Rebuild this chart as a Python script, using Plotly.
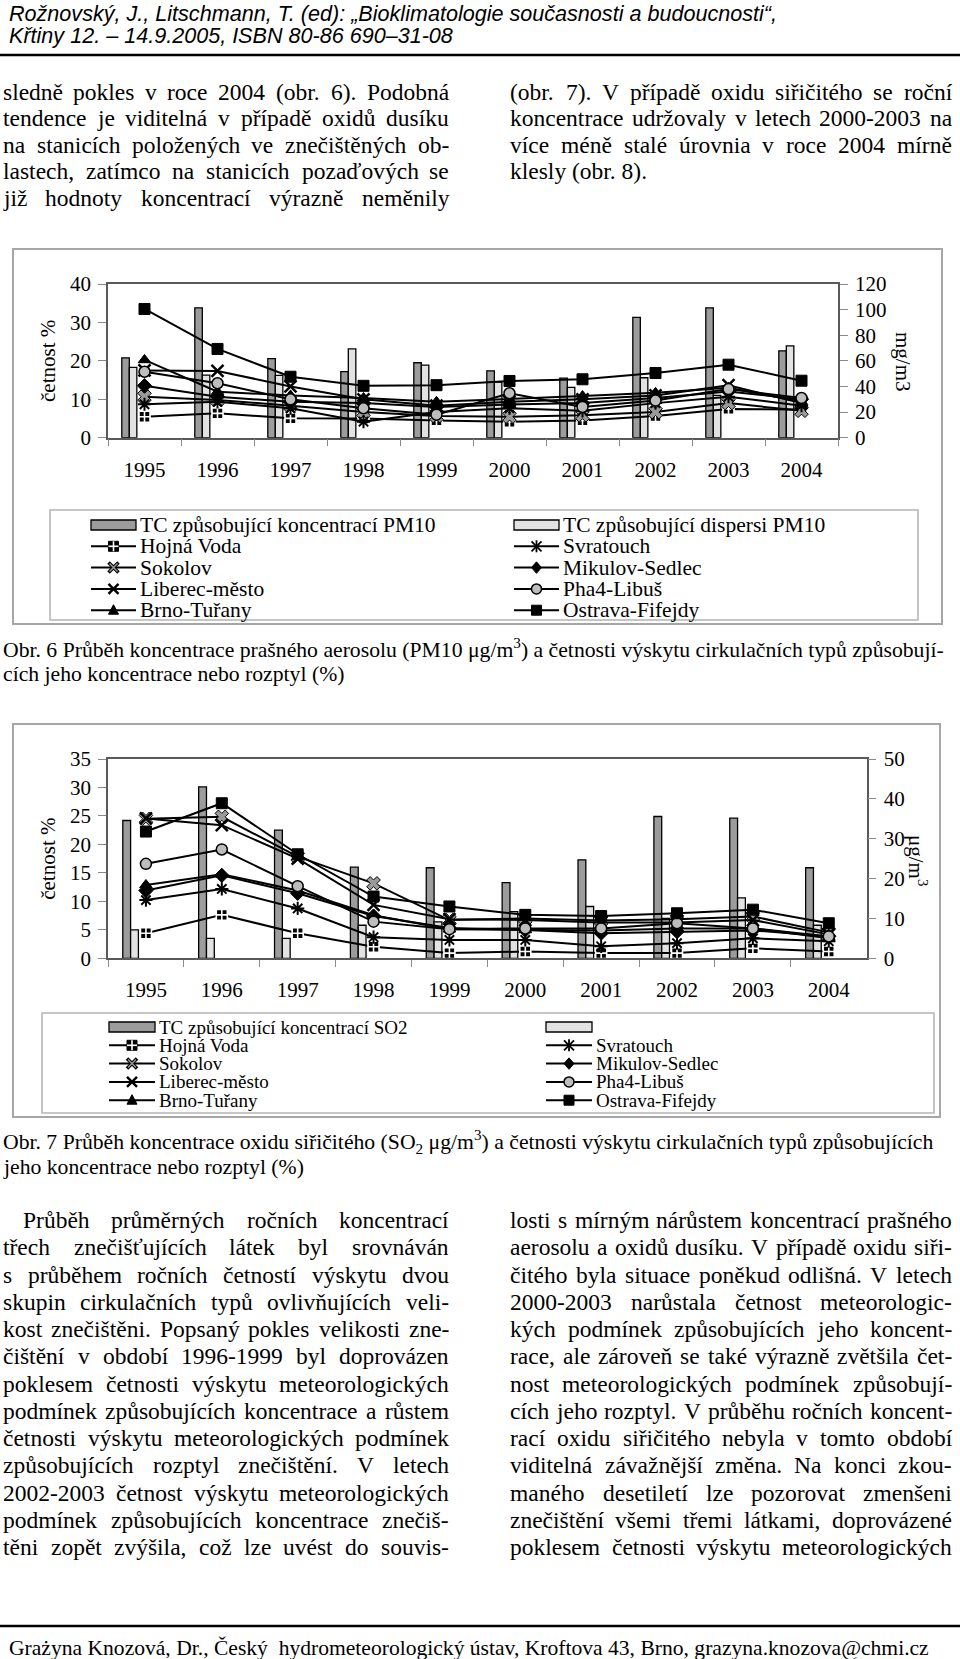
import re
import unicodedata
import plotly.graph_objects as go

W, H = 960, 1659

# ---------------------------------------------------------------- data
YEARS = ["1995", "1996", "1997", "1998", "1999", "2000", "2001", "2002", "2003", "2004"]

# Obr. 6 - PM10 (bars: % on left axis, stations: concentration on right axis)
PM10_TC_CONCENTRATION = [20.8, 33.8, 20.6, 17.2, 19.5, 17.4, 15.5, 31.3, 33.8, 22.6]
PM10_TC_DISPERSION = [18.3, 16.3, 16.2, 23.1, 18.9, 14.5, 13.1, 15.6, 11.0, 23.9]
PM10_HOJNA_VODA = [16.4, 19.0, 15.1, 15.0, 13.5, 12.5, 13.5, 17.0, 22.5, 22.0]
PM10_SOKOLOV = [32.0, 29.4, 25.0, 20.0, 17.0, 16.4, 17.5, 20.0, 27.0, 21.0]
PM10_LIBEREC = [52.5, 52.1, 40.0, 30.0, 25.0, 28.0, 30.0, 33.0, 41.0, 27.0]
PM10_BRNO = [60.7, 35.9, 33.0, 31.0, 28.0, 30.0, 32.5, 35.0, 39.0, 28.0]
PM10_SVRATOUCH = [26.1, 28.0, 23.0, 12.5, 20.0, 23.0, 21.0, 27.0, 32.0, 25.0]
PM10_MIKULOV = [40.6, 32.0, 28.0, 27.0, 24.0, 26.0, 27.0, 31.0, 36.0, 30.0]
PM10_PHA4 = [51.5, 42.5, 30.0, 23.0, 18.0, 34.7, 24.0, 29.0, 38.0, 31.0]
PM10_OSTRAVA = [100.5, 69.3, 47.6, 40.5, 41.0, 44.3, 45.6, 50.5, 57.0, 44.5]

# Obr. 7 - SO2
SO2_TC_CONCENTRATION = [24.2, 30.1, 22.5, 16.0, 15.9, 13.3, 17.3, 24.9, 24.6, 15.9]
SO2_TC_DISPERSION = [5.0, 3.5, 3.5, 5.8, 6.4, 8.2, 9.1, 7.0, 10.6, 5.8]
SO2_HOJNA_VODA = [6.3, 10.9, 6.3, 2.9, 1.3, 1.7, 1.3, 1.3, 2.5, 1.7]
SO2_SOKOLOV = [35.0, 35.5, 25.5, 18.8, 9.6, 10.0, 9.5, 9.8, 10.5, 6.5]
SO2_LIBEREC = [35.1, 33.4, 25.0, 13.4, 9.8, 9.6, 9.0, 9.0, 9.6, 6.0]
SO2_BRNO = [18.4, 21.1, 17.0, 10.8, 7.3, 7.1, 7.0, 7.5, 7.5, 5.0]
SO2_SVRATOUCH = [14.6, 17.4, 12.5, 5.3, 4.6, 4.6, 3.0, 3.8, 5.0, 4.3]
SO2_MIKULOV = [17.0, 20.8, 16.3, 10.6, 7.6, 7.1, 6.3, 6.7, 7.0, 5.5]
SO2_PHA4 = [23.7, 27.3, 18.1, 9.2, 7.3, 7.5, 7.5, 8.8, 7.5, 5.5]
SO2_OSTRAVA = [31.8, 38.9, 26.1, 15.5, 13.0, 10.9, 10.6, 11.3, 12.2, 8.8]

STATIONS = ["Hojná Voda", "Sokolov", "Liberec-město", "Brno-Tuřany",
            "Svratouch", "Mikulov-Sedlec", "Pha4-Libuš", "Ostrava-Fifejdy"]
PM10_SERIES = [PM10_HOJNA_VODA, PM10_SOKOLOV, PM10_LIBEREC, PM10_BRNO,
               PM10_SVRATOUCH, PM10_MIKULOV, PM10_PHA4, PM10_OSTRAVA]
SO2_SERIES = [SO2_HOJNA_VODA, SO2_SOKOLOV, SO2_LIBEREC, SO2_BRNO,
              SO2_SVRATOUCH, SO2_MIKULOV, SO2_PHA4, SO2_OSTRAVA]

LEFT_TICKS_1 = [0, 10, 20, 30, 40]
RIGHT_TICKS_1 = [0, 20, 40, 60, 80, 100, 120]
LEFT_TICKS_2 = [0, 5, 10, 15, 20, 25, 30, 35]
RIGHT_TICKS_2 = [0, 10, 20, 30, 40, 50]

# ---------------------------------------------------------------- text
HEADER = ["Rožnovský, J., Litschmann, T. (ed): „Bioklimatologie současnosti a budoucnosti“,",
          "Křtiny 12. – 14.9.2005, ISBN 80-86 690–31-08"]
TOP_LEFT = ["sledně pokles v roce 2004 (obr. 6). Podobná",
            "tendence je viditelná v případě oxidů dusíku",
            "na stanicích položených ve znečištěných ob-",
            "lastech, zatímco na stanicích pozaďových se",
            "již hodnoty koncentrací výrazně neměnily"]
TOP_RIGHT = ["(obr. 7). V případě oxidu siřičitého se roční",
             "koncentrace udržovaly v letech 2000-2003 na",
             "více méně stalé úrovnia v roce 2004 mírně",
             "klesly (obr. 8)."]
CAPTION_6 = ["Obr. 6 Průběh koncentrace prašného aerosolu (PM10 μg/m<sup>3</sup>) a četnosti výskytu cirkulačních typů způsobují-",
             "cích jeho koncentrace nebo rozptyl (%)"]
CAPTION_7 = ["Obr. 7 Průběh koncentrace oxidu siřičitého (SO<sub>2</sub> μg/m<sup>3</sup>) a četnosti výskytu cirkulačních typů způsobujících",
             "jeho koncentrace nebo rozptyl (%)"]
BOTTOM_LEFT = ["Průběh průměrných ročních koncentrací",
               "třech znečišťujících látek byl srovnáván",
               "s průběhem ročních četností výskytu dvou",
               "skupin cirkulačních typů ovlivňujících veli-",
               "kost znečištěni. Popsaný pokles velikosti zne-",
               "čištění v období 1996-1999 byl doprovázen",
               "poklesem četnosti výskytu meteorologických",
               "podmínek způsobujících koncentrace a růstem",
               "četnosti výskytu meteorologických podmínek",
               "způsobujících rozptyl znečištění. V letech",
               "2002-2003 četnost výskytu meteorologických",
               "podmínek způsobujících koncentrace znečiš-",
               "těni zopět zvýšila, což lze uvést do souvis-"]
BOTTOM_RIGHT = ["losti s mírným nárůstem koncentrací prašného",
                "aerosolu a oxidů dusíku. V případě oxidu siři-",
                "čitého byla situace poněkud odlišná. V letech",
                "2000-2003 narůstala četnost meteorologic-",
                "kých podmínek způsobujících jeho koncent-",
                "race, ale zároveň se také výrazně zvětšila čet-",
                "nost meteorologických podmínek způsobují-",
                "cích jeho rozptyl. V průběhu ročních koncent-",
                "rací oxidu siřičitého nebyla v tomto období",
                "viditelná závažnější změna. Na konci zkou-",
                "maného desetiletí lze pozorovat zmenšeni",
                "znečištění všemi třemi látkami, doprovázené",
                "poklesem četnosti výskytu meteorologických"]
FOOTER = "Grażyna Knozová, Dr., Český  hydrometeorologický ústav, Kroftova 43, Brno, grazyna.knozova@chmi.cz"
LEGEND_1 = [["TC způsobující koncentrací PM10", "Hojná Voda", "Sokolov", "Liberec-město", "Brno-Tuřany"],
            ["TC způsobující dispersi PM10", "Svratouch", "Mikulov-Sedlec", "Pha4-Libuš", "Ostrava-Fifejdy"]]
LEGEND_2 = [["TC způsobující koncentrací SO2", "Hojná Voda", "Sokolov", "Liberec-město", "Brno-Tuřany"],
            ["", "Svratouch", "Mikulov-Sedlec", "Pha4-Libuš", "Ostrava-Fifejdy"]]

# ---------------------------------------------------------------- font metrics (per 1000 em)
TIMES = {' ': 250, '%': 833, '(': 333, ')': 333, ',': 250, '-': 333, '.': 250, '/': 278,
         ':': 278, ';': 278, '@': 921, '–': 500, '„': 444, '“': 444, 'μ': 576,
         'ď': 588, 'ť': 344, 'ż': 444,
         'a': 444, 'b': 500, 'c': 444, 'd': 500, 'e': 444, 'f': 333, 'g': 500, 'h': 500,
         'i': 278, 'j': 278, 'k': 500, 'l': 278, 'm': 778, 'n': 500, 'o': 500, 'p': 500,
         'q': 500, 'r': 333, 's': 389, 't': 278, 'u': 500, 'v': 500, 'w': 722, 'x': 500,
         'y': 500, 'z': 444,
         'A': 722, 'B': 667, 'C': 667, 'D': 722, 'E': 611, 'F': 556, 'G': 722, 'H': 722,
         'I': 333, 'J': 389, 'K': 722, 'L': 611, 'M': 889, 'N': 722, 'O': 722, 'P': 556,
         'Q': 722, 'R': 667, 'S': 556, 'T': 611, 'U': 722, 'V': 722, 'W': 944, 'X': 722,
         'Y': 722, 'Z': 611}
for _d in "0123456789":
    TIMES[_d] = 500
ARIAL = {' ': 278, ',': 278, '.': 278, '-': 333, '(': 333, ')': 333, ':': 278,
         '„': 333, '“': 333, '–': 556,
         'a': 556, 'b': 556, 'c': 500, 'd': 556, 'e': 556, 'f': 278, 'g': 556, 'h': 556,
         'i': 222, 'j': 222, 'k': 500, 'l': 222, 'm': 833, 'n': 556, 'o': 556, 'p': 556,
         'q': 556, 'r': 333, 's': 500, 't': 278, 'u': 556, 'v': 500, 'w': 722, 'x': 500,
         'y': 500, 'z': 500,
         'A': 667, 'B': 667, 'C': 722, 'D': 722, 'E': 667, 'F': 611, 'G': 778, 'H': 722,
         'I': 278, 'J': 500, 'K': 667, 'L': 556, 'M': 833, 'N': 722, 'O': 778, 'P': 667,
         'Q': 778, 'R': 722, 'S': 667, 'T': 611, 'U': 722, 'V': 667, 'W': 944, 'X': 667,
         'Y': 667, 'Z': 611}
for _d in "0123456789":
    ARIAL[_d] = 556


def text_em(s, table):
    total, scale = 0.0, 1.0
    for part in re.split(r'(</?su[bp]>)', s):
        if part in ('<sup>', '<sub>'):
            scale = 0.7
            continue
        if part in ('</sup>', '</sub>'):
            scale = 1.0
            continue
        for ch in part:
            w = table.get(ch)
            if w is None:
                w = table.get(unicodedata.normalize('NFD', ch)[0], 500)
            total += w * scale
    return total / 1000.0


shapes = []
annotations = []
SERIF = "Liberation Serif"


def px(x, y):
    return x / W, 1 - y / H


def add_text(text, x, y, size, family=SERIF, anchor='left', angle=0):
    annotations.append(dict(text=text, x=x / W, y=1 - y / H, xref='paper', yref='paper',
                            xanchor=anchor, yanchor='middle', showarrow=False,
                            textangle=angle, borderpad=0, borderwidth=0,
                            font=dict(family=family, size=size, color='black')))


def add_line_text(text, x0, x1, y, size, justify=True):
    words = text.split()
    if not justify or len(words) < 2:
        add_text(text, x0, y, size)
        return
    widths = [text_em(w, TIMES) * size for w in words]
    gap = (x1 - x0 - sum(widths)) / (len(words) - 1)
    x = x0
    for w, wd in zip(words, widths):
        add_text(w, x, y, size)
        x += wd + gap


def add_rect(x0, y0, x1, y1, color, width, fill='rgba(0,0,0,0)'):
    shapes.append(dict(type='rect', xref='paper', yref='paper', x0=x0 / W, x1=x1 / W,
                       y0=1 - y1 / H, y1=1 - y0 / H, line=dict(color=color, width=width),
                       fillcolor=fill))


def add_seg(x0, y0, x1, y1, color='black', width=2):
    shapes.append(dict(type='line', xref='paper', yref='paper', x0=x0 / W, x1=x1 / W,
                       y0=1 - y0 / H, y1=1 - y1 / H, line=dict(color=color, width=width)))


def add_poly(pts, fill='black', color='black', width=1):
    d = 'M ' + ' L '.join('%.5f,%.5f' % px(x, y) for x, y in pts) + ' Z'
    shapes.append(dict(type='path', xref='paper', yref='paper', path=d, fillcolor=fill,
                       line=dict(color=color, width=width)))


# ---------------------------------------------------------------- styles
STYLE = {
    "Hojná Voda": dict(symbol='square-cross', size=11, color='black', lc='white', lw=1.6, g='hojna'),
    "Sokolov": dict(symbol='x', size=12, color='#9a9a9a', lc='black', lw=1, g='x'),
    "Liberec-město": dict(symbol='x-thin-open', size=12, color='black', lc='black', lw=2.5, g='xthin'),
    "Brno-Tuřany": dict(symbol='triangle-up', size=11, color='black', lc='black', lw=1, g='triangle'),
    "Svratouch": dict(symbol='asterisk-open', size=11, color='black', lc='black', lw=2, g='asterisk'),
    "Mikulov-Sedlec": dict(symbol='diamond', size=11, color='black', lc='black', lw=1, g='diamond'),
    "Pha4-Libuš": dict(symbol='circle', size=11, color='#bdbdbd', lc='black', lw=1.5, g='circle'),
    "Ostrava-Fifejdy": dict(symbol='square', size=11, color='black', lc='black', lw=1, g='square'),
}
DARK_BAR = '#9c9c9c'
LIGHT_BAR = '#e2e2e2'


def glyph(kind, cx, cy, s):
    h = s / 2
    if kind in ('square', 'hojna'):
        add_poly([(cx - h, cy - h), (cx + h, cy - h), (cx + h, cy + h), (cx - h, cy + h)])
        if kind == 'hojna':
            add_seg(cx, cy - h, cx, cy + h, 'white', 1.6)
            add_seg(cx - h, cy, cx + h, cy, 'white', 1.6)
    elif kind == 'diamond':
        add_poly([(cx, cy - h * 1.15), (cx + h, cy), (cx, cy + h * 1.15), (cx - h, cy)])
    elif kind == 'triangle':
        add_poly([(cx, cy - h * 1.1), (cx + h, cy + h * 0.8), (cx - h, cy + h * 0.8)])
    elif kind == 'circle':
        shapes.append(dict(type='circle', xref='paper', yref='paper',
                           x0=(cx - h) / W, x1=(cx + h) / W, y0=1 - (cy + h) / H, y1=1 - (cy - h) / H,
                           fillcolor='#bdbdbd', line=dict(color='black', width=1.5)))
    elif kind == 'x':
        add_seg(cx - h, cy - h, cx + h, cy + h, 'black', 3.6)
        add_seg(cx - h, cy + h, cx + h, cy - h, 'black', 3.6)
        add_seg(cx - h + 1, cy - h + 1, cx + h - 1, cy + h - 1, '#9a9a9a', 1.4)
        add_seg(cx - h + 1, cy + h - 1, cx + h - 1, cy - h + 1, '#9a9a9a', 1.4)
    elif kind == 'xthin':
        add_seg(cx - h, cy - h, cx + h, cy + h, 'black', 2.4)
        add_seg(cx - h, cy + h, cx + h, cy - h, 'black', 2.4)
    elif kind == 'asterisk':
        add_seg(cx - h, cy - h, cx + h, cy + h, 'black', 1.8)
        add_seg(cx - h, cy + h, cx + h, cy - h, 'black', 1.8)
        add_seg(cx, cy - h * 1.2, cx, cy + h * 1.2, 'black', 1.8)


def draw_legend(cols, col_x, text_dx, row_y0, row_dy, sw_w, size, box):
    add_rect(*box, color='#b4b4b4', width=1.5)
    for ci, col in enumerate(cols):
        x0 = col_x[ci]
        for ri, label in enumerate(col):
            cy = row_y0 + ri * row_dy
            if ri == 0:
                add_rect(x0, cy - 5, x0 + sw_w, cy + 5, 'black', 1.3,
                         fill=DARK_BAR if ci == 0 else LIGHT_BAR)
            else:
                add_seg(x0, cy, x0 + sw_w, cy, 'black', 2)
                glyph(STYLE[label]['g'], x0 + sw_w / 2, cy, 10)
            if label:
                add_text(label, x0 + sw_w + text_dx, cy, size)


# ---------------------------------------------------------------- figure
fig = go.Figure()


def add_chart(conc, disp, series, xa, ya_left, ya_right, bar_off, name_sfx):
    fig.add_trace(go.Bar(x=YEARS, y=conc, xaxis=xa, yaxis=ya_left, offset=bar_off, width=0.103,
                         marker=dict(color=DARK_BAR, line=dict(color='black', width=1.3)),
                         name='TC koncentrace ' + name_sfx, showlegend=False))
    fig.add_trace(go.Bar(x=YEARS, y=disp, xaxis=xa, yaxis=ya_left, offset=bar_off + 0.103, width=0.103,
                         marker=dict(color=LIGHT_BAR, line=dict(color='black', width=1.3)),
                         name='TC rozptyl ' + name_sfx, showlegend=False))
    for st, vals in zip(STATIONS, series):
        s = STYLE[st]
        fig.add_trace(go.Scatter(x=YEARS, y=vals, xaxis=xa, yaxis=ya_right, mode='lines+markers',
                                 name=st, showlegend=False,
                                 line=dict(color='black', width=2),
                                 marker=dict(symbol=s['symbol'], size=s['size'], color=s['color'],
                                             line=dict(color=s['lc'], width=s['lw']))))


add_chart(PM10_TC_CONCENTRATION, PM10_TC_DISPERSION, PM10_SERIES, 'x', 'y', 'y2', -0.311, 'PM10')
add_chart(SO2_TC_CONCENTRATION, SO2_TC_DISPERSION, SO2_SERIES, 'x2', 'y3', 'y4', -0.305, 'SO2')

TICKFONT = dict(family=SERIF, size=21, color='black')
AX_LINE = '#5a5a5a'
TICK_C = '#8a8a8a'


def xaxis_cfg(domain, anchor):
    return dict(domain=domain, anchor=anchor, type='category', range=[-0.5, 9.5],
                tickson='boundaries', ticks='outside', ticklen=7, tickcolor=TICK_C, tickwidth=1.2,
                showline=True, linecolor=AX_LINE, linewidth=1.5, mirror=True, showgrid=False,
                zeroline=False, tickfont=TICKFONT, ticklabelstandoff=12, fixedrange=True,
                automargin=False)


def yaxis_cfg(domain, anchor, rng, tickvals, side='left', overlaying=None, title=None):
    d = dict(anchor=anchor, range=rng, tickvals=tickvals, ticks='outside', ticklen=8,
             tickcolor=TICK_C, tickwidth=1.2, showline=True, linecolor=AX_LINE, linewidth=1.5,
             showgrid=False, zeroline=False, tickfont=TICKFONT, ticklabelstandoff=3,
             side=side, fixedrange=True, automargin=False)
    if overlaying:
        d['overlaying'] = overlaying
    else:
        d['domain'] = domain
    if title:
        d['title'] = dict(text=title, font=dict(family=SERIF, size=21, color='black'), standoff=9)
    return d


# chart 1 plot area (pixels): x 108..838, y 284..437.7 ; chart 2: x 108..866.7, y 759..958.3
fig.update_layout(
    width=W, height=H, margin=dict(l=0, r=0, t=0, b=0, pad=0, autoexpand=False), autosize=False,
    paper_bgcolor='white', plot_bgcolor='white', showlegend=False, barmode='overlay',
    xaxis=xaxis_cfg([108 / W, 838 / W], 'y'),
    yaxis=yaxis_cfg([1 - 437.7 / H, 1 - 284 / H], 'x', [0, 40], LEFT_TICKS_1, title='četnost %'),
    yaxis2=yaxis_cfg(None, 'x', [0, 120], RIGHT_TICKS_1, side='right', overlaying='y'),
    xaxis2=xaxis_cfg([108 / W, 866.7 / W], 'y3'),
    yaxis3=yaxis_cfg([1 - 958.3 / H, 1 - 759 / H], 'x2', [0, 35], LEFT_TICKS_2, title='četnost %'),
    yaxis4=yaxis_cfg(None, 'x2', [0, 50], RIGHT_TICKS_2, side='right', overlaying='y3'),
)

# right axis titles (rotated clockwise as in the original)
add_text('mg/m3', 903, 362, 21, anchor='center', angle=90)
add_text('μg/m<sup>3</sup>', 918, 860, 21, anchor='center', angle=90)

# chart frames
add_rect(13, 249, 942, 624, '#a6a6a6', 2)
add_rect(13, 724, 940, 1117, '#a6a6a6', 2)

# legends
draw_legend(LEGEND_1, [91, 514], 4, 525, 21.3, 45, 21.5, (50, 510, 918, 620))
draw_legend(LEGEND_2, [109, 546], 4, 1027, 18.3, 46, 19, (42, 1013, 934, 1113))

# header
hdr_size = 770 / text_em(HEADER[0], ARIAL)
add_text('<i>' + HEADER[0] + '</i>', 8.5, 13, hdr_size, family='Liberation Sans')
add_text('<i>' + HEADER[1] + '</i>', 8.5, 35.5, hdr_size, family='Liberation Sans')
add_seg(0, 55, 960, 55, 'black', 2.6)

BODY = 23.5
for i, ln in enumerate(TOP_LEFT):
    add_line_text(ln, 3, 449, 92 + 26.5 * i, BODY, True)
for i, ln in enumerate(TOP_RIGHT):
    add_line_text(ln, 510, 952, 92 + 26.5 * i, BODY, i < len(TOP_RIGHT) - 1)

CAP = 21.7
for i, ln in enumerate(CAPTION_6):
    add_line_text(ln, 3, 945, 648 + 25.5 * i, CAP, False)
for i, ln in enumerate(CAPTION_7):
    add_line_text(ln, 3, 945, 1141 + 26 * i, CAP, False)

for i, ln in enumerate(BOTTOM_LEFT):
    add_line_text(ln, 23 if i == 0 else 3, 449, 1220 + 27.25 * i, BODY, True)
for i, ln in enumerate(BOTTOM_RIGHT):
    add_line_text(ln, 510, 952, 1220 + 27.25 * i, BODY, True)

add_seg(0, 1626, 960, 1626, 'black', 2.6)
foot_size = 923 / text_em(FOOTER, TIMES)
add_text(FOOTER, 8.5, 1648, foot_size)

fig.update_layout(shapes=shapes, annotations=annotations)

fig.write_html("out.html", config={'displayModeBar': False},
               post_script="document.body.style.margin='0px';")
